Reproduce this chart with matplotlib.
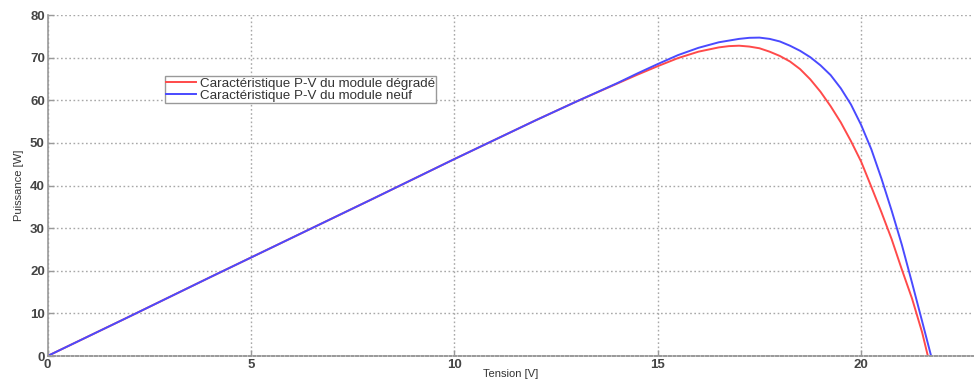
import matplotlib.pyplot as plt

# P-V points (tension in V, power in W)
v_degrade = [0.0, 2.0, 4.0, 6.0, 8.0, 10.0, 12.0, 13.0, 14.0, 14.5, 15.0, 15.5,
             16.0, 16.5, 16.75, 17.0, 17.25, 17.5, 17.75, 18.0, 18.25, 18.5,
             18.75, 19.0, 19.25, 19.5, 19.75, 20.0, 20.25, 20.5, 20.75, 21.0,
             21.25, 21.36, 21.5, 21.64]
p_degrade = [0.0, 9.2, 18.5, 27.7, 36.9, 46.2, 55.3, 59.7, 63.9, 66.0, 68.0, 69.9,
             71.4, 72.4, 72.7, 72.8, 72.6, 72.2, 71.4, 70.4, 69.1, 67.3,
             64.9, 62.0, 58.6, 54.8, 50.4, 45.6, 39.7, 33.7, 27.4, 20.3,
             13.5, 10.0, 5.5, 0.0]

v_neuf = [0.0, 2.0, 4.0, 6.0, 8.0, 10.0, 12.0, 13.0, 14.0, 14.5, 15.0, 15.5,
          16.0, 16.5, 17.0, 17.25, 17.5, 17.75, 18.0, 18.25, 18.5, 18.75,
          19.0, 19.25, 19.5, 19.75, 20.0, 20.25, 20.5, 20.75, 21.0, 21.25,
          21.5, 21.72]
p_neuf = [0.0, 9.2, 18.5, 27.7, 36.9, 46.2, 55.3, 59.7, 64.0, 66.3, 68.5, 70.6,
          72.3, 73.6, 74.4, 74.65, 74.7, 74.4, 73.8, 72.8, 71.6, 70.1,
          68.2, 65.9, 62.8, 59.0, 54.2, 48.5, 41.6, 34.1, 26.1, 17.2,
          8.1, 0.0]

x_ticks = [0, 5, 10, 15, 20]
y_ticks = [0, 10, 20, 30, 40, 50, 60, 70, 80]

plt.rcParams["font.family"] = ["Liberation Sans", "DejaVu Sans"]

fig = plt.figure(figsize=(9.74, 3.82), dpi=100)
ax = fig.add_axes([0.0488, 0.068, 0.9502, 0.8927])

ax.plot(v_degrade, p_degrade, color="#ff4a4a", linewidth=1.4,
        solid_joinstyle="round", label="Caractéristique P-V du module dégradé")
ax.plot(v_neuf, p_neuf, color="#4a4aff", linewidth=1.4,
        solid_joinstyle="round", label="Caractéristique P-V du module neuf")

ax.set_xlim(0, 22.75)
ax.set_ylim(0, 80)
ax.set_xticks(x_ticks)
ax.set_yticks(y_ticks)
ax.tick_params(direction="in", length=4, width=1, color="#999999",
               labelcolor="#444444", labelsize=9.5, pad=2)
for lbl in ax.get_xticklabels() + ax.get_yticklabels():
    lbl.set_fontweight("bold")

ax.grid(True, linestyle=(0, (1.2, 1.8)), color="#a8a8a8", linewidth=1.0)
ax.set_axisbelow(True)
for side in ["top", "right"]:
    ax.spines[side].set_visible(False)
ax.spines["left"].set_color("#999999")
ax.spines["left"].set_linewidth(1.2)
ax.spines["bottom"].set_color("#999999")
ax.spines["bottom"].set_linestyle((0, (1.2, 1.2)))
ax.spines["bottom"].set_linewidth(1.4)

ax.set_xlabel("Tension [V]", fontsize=8, color="#333333", labelpad=-1)
ax.set_ylabel("Puissance [W]", fontsize=8, color="#333333", labelpad=4)

leg = ax.legend(loc="upper left", bbox_to_anchor=(0.127, 0.821), fontsize=9.6,
                fancybox=False, framealpha=1, edgecolor="#999999",
                handlelength=2.2, handletextpad=0.3, borderpad=0.1,
                labelspacing=0.0, borderaxespad=0)
for text in leg.get_texts():
    text.set_color("#333333")

fig.savefig("out.png", dpi=100)
